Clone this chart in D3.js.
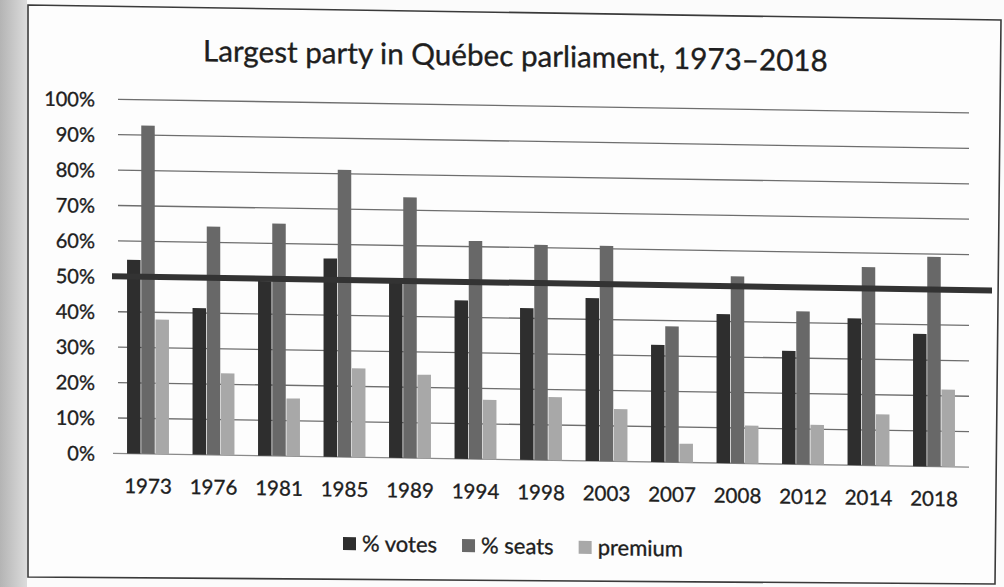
<!DOCTYPE html>
<html>
<head>
<meta charset="utf-8">
<script src="https://cdn.jsdelivr.net/npm/d3@7"></script>
<style>
  html, body { margin: 0; padding: 0; background: #ffffff; }
  svg { display: block; }
  text { font-family: Lato, "Open Sans", sans-serif; fill: #1e1e1e; stroke: #1e1e1e; stroke-width: 0.35px; }
</style>
</head>
<body>
<svg id="chart" width="1004" height="587"></svg>
<script>
// Largest party in the Québec National Assembly after each general election
const years   = ["1973", "1976", "1981", "1985", "1989", "1994", "1998",
                 "2003", "2007", "2008", "2012", "2014", "2018"];
const votes   = [54.7, 41.4, 49.3, 56.0, 50.0, 44.8, 42.9, 46.0, 33.1, 42.1, 32.0, 41.5, 37.4];
const seats   = [92.7, 64.5, 65.6, 81.1, 73.6, 61.6, 60.8, 60.8, 38.4, 52.8, 43.2, 56.0, 59.2];
const premium = [38.0, 23.1, 16.3, 25.1, 23.6, 16.8, 17.9, 14.8, 5.3, 10.7, 11.2, 14.5, 21.8];
const seriesNames  = ["% votes", "% seats", "premium"];
const seriesColors = ["#2e2e2e", "#686868", "#a8a8a8"];
const yTicks = [0, 10, 20, 30, 40, 50, 60, 70, 80, 90, 100];
const majority = 50;
const titleText = "Largest party in Québec parliament, 1973–2018";

const svg = d3.select("#chart");
const W = 1004, H = 587;

// page edge shading on the left
const defs = svg.append("defs");
const grad = defs.append("linearGradient").attr("id", "edge")
  .attr("x1", 0).attr("x2", 1).attr("y1", 0).attr("y2", 0);
grad.append("stop").attr("offset", 0).attr("stop-color", "#b4b4b4");
grad.append("stop").attr("offset", 1).attr("stop-color", "#dcdcdc");
svg.append("rect").attr("width", W).attr("height", H).attr("fill", "#fbfbfb");
svg.append("rect").attr("width", 27).attr("height", H).attr("fill", "url(#edge)");

// chart frame
svg.append("path")
  .attr("d", "M28,5 L1001,20 L995,584 L28,577 Z")
  .attr("fill", "#fdfdfd")
  .attr("stroke", "#3a3a3a").attr("stroke-width", 1.6);

// the printed page sits at a slight slant
const g = svg.append("g").attr("transform", "skewY(0.92)");

const x0 = d3.scaleBand().domain(years).range([115.25, 966.75])
  .paddingInner(0.36).paddingOuter(0.18);
const x1 = d3.scaleBand().domain(seriesNames).range([0, x0.bandwidth()]).paddingInner(0.05);
const y = d3.scaleLinear().domain([0, 100]).range([451.5, 97.4]);

// gridlines
g.append("g").selectAll("line").data(yTicks).join("line")
  .attr("x1", d => d === 0 ? 113 : 118).attr("x2", 969)
  .attr("y1", d => y(d)).attr("y2", d => y(d))
  .attr("stroke", d => d === 0 ? "#8a8a8a" : "#6e6e6e")
  .attr("stroke-width", 1.3);

// y-axis labels
const yAxis = d3.axisLeft(y).tickValues(yTicks).tickFormat(d => d + "%").tickSize(0).tickPadding(0);
const ya = g.append("g").attr("transform", "translate(95,0)").call(yAxis);
ya.select(".domain").remove();
ya.selectAll("text").attr("font-size", 20).attr("font-family", "Lato, sans-serif")
  .attr("fill", "#1e1e1e").attr("dy", "0.36em");

// bars
const rows = years.map((yr, i) => ({ yr, vals: [votes[i], seats[i], premium[i]] }));
const groups = g.append("g").selectAll("g").data(rows).join("g")
  .attr("transform", d => `translate(${x0(d.yr)},0)`);
groups.selectAll("rect").data(d => d.vals.map((v, k) => ({ k, v }))).join("rect")
  .attr("x", d => x1(seriesNames[d.k]))
  .attr("width", x1.bandwidth())
  .attr("y", d => y(d.v))
  .attr("height", d => y(0) - y(d.v))
  .attr("fill", d => seriesColors[d.k]);

// x-axis labels
const xAxis = d3.axisBottom(x0).tickSize(0).tickPadding(0);
const xa = g.append("g").attr("transform", "translate(0,491)").call(xAxis);
xa.select(".domain").remove();
xa.selectAll("text").attr("font-size", 20.5).attr("font-family", "Lato, sans-serif")
  .attr("fill", "#1e1e1e").attr("dy", 0);

// 50% majority line
g.append("line")
  .attr("x1", 112).attr("x2", 992)
  .attr("y1", y(majority)).attr("y2", y(majority))
  .attr("stroke", "#333").attr("stroke-width", 6);

// title
const title = g.append("text").attr("x", 203).attr("y", 58)
  .attr("font-size", 28).text(titleText);
const tl = title.node().getComputedTextLength();
title.attr("font-size", 28 * 625 / tl);

// legend
const legend = g.append("g").attr("transform", "translate(343,0)");
let lx = 0;
seriesNames.forEach((name, k) => {
  legend.append("rect").attr("x", lx).attr("y", 531.5).attr("width", 13).attr("height", 13)
    .attr("fill", seriesColors[k]);
  const t = legend.append("text").attr("x", lx + 19).attr("y", 545.5)
    .attr("font-size", 22).text(name);
  lx += 19 + t.node().getComputedTextLength() + 25;
});
</script>
</body>
</html>
